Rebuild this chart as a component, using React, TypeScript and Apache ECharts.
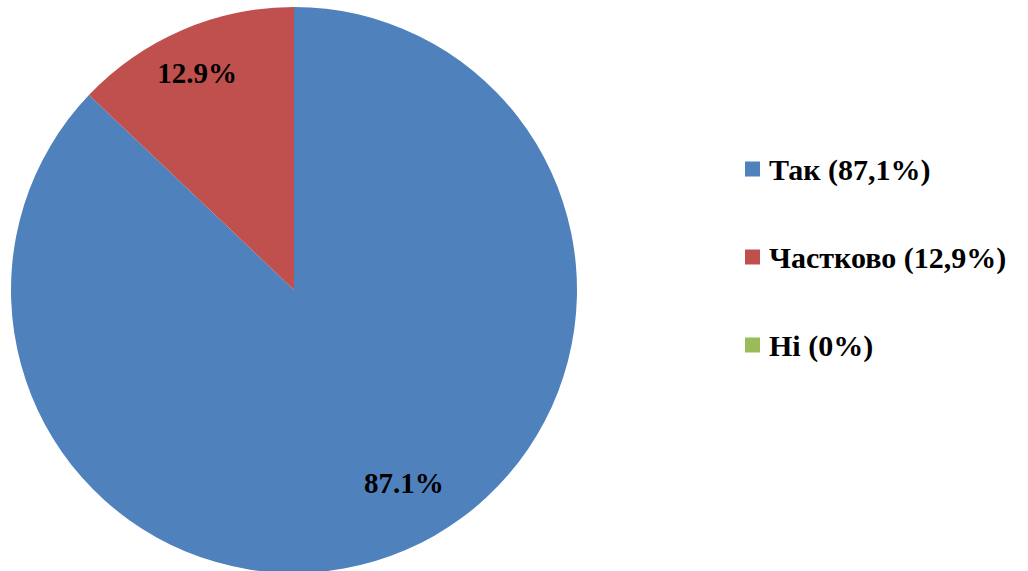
import React, { useEffect, useRef } from "react";
import * as echarts from "echarts";

const categories = ["Так (87,1%)", "Частково (12,9%)", "Ні (0%)"];
const values = [87.1, 12.9, 0];
const labels = ["87.1%", "12.9%", ""];
const colors = ["#4F81BD", "#C0504D", "#9BBB59"];
const labelOffsets: number[][] = [[53, 60], [-40, -84], [0, 0]];

export default function App() {
  const ref = useRef<HTMLDivElement>(null);
  useEffect(() => {
    if (!ref.current) return;
    const chart = echarts.init(ref.current, undefined, { renderer: "svg" });
    const font = "'Liberation Serif', 'Times New Roman', serif";
    chart.setOption({
      animation: false,
      legend: {
        orient: "vertical",
        left: 745,
        top: 154,
        padding: 0,
        itemWidth: 15,
        itemHeight: 15,
        itemGap: 58,
        icon: "rect",
        data: categories,
        selectedMode: false,
        textStyle: {
          fontFamily: font,
          fontWeight: "bold",
          fontSize: 30,
          lineHeight: 30,
          color: "#000",
          padding: [0, 0, 0, 4],
        },
      },
      series: [
        {
          type: "pie",
          center: [294, 290],
          radius: 283,
          startAngle: 90,
          clockwise: true,
          avoidLabelOverlap: false,
          labelLine: { show: false },
          itemStyle: { borderWidth: 0 },
          emphasis: { disabled: true },
          data: categories.map((name, i) => ({
            name,
            value: values[i],
            itemStyle: { color: colors[i] },
            label: {
              show: labels[i] !== "",
              position: "inside",
              formatter: labels[i],
              offset: labelOffsets[i],
              fontFamily: font,
              fontWeight: "bold",
              fontSize: 29,
              color: "#000",
            },
          })),
        },
      ],
    });
    return () => chart.dispose();
  }, []);
  return (
    <div
      ref={ref}
      style={{ position: "fixed", left: 0, top: 0, width: 1028, height: 571, background: "#fff" }}
    />
  );
}
